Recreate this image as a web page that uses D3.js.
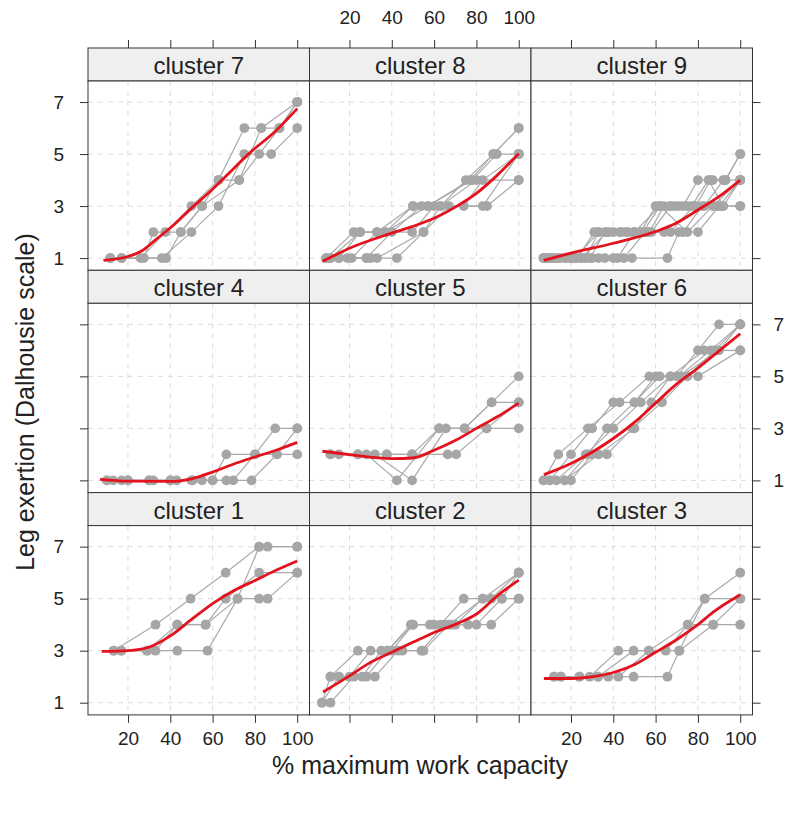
<!DOCTYPE html>
<html><head><meta charset="utf-8">
<script src="https://cdn.jsdelivr.net/npm/d3@7"></script>
<style>
body{margin:0;background:#fff}
text{font-family:"Liberation Sans",Arial,Helvetica,sans-serif;fill:#222}
</style>
</head><body>
<svg id="chart" width="800" height="815"></svg>
<script>
// ---------- data ----------
const xTicks = [20, 40, 60, 80, 100];
const yTicks = [1, 3, 5, 7];
const panelOrder = [7, 8, 9, 4, 5, 6, 1, 2, 3];
const stripLabels = ["cluster 7","cluster 8","cluster 9","cluster 4","cluster 5","cluster 6","cluster 1","cluster 2","cluster 3"];
const xTitle = "% maximum work capacity";
const yTitle = "Leg exertion (Dalhousie scale)";

// individual subjects: [% max work capacity, Dalhousie score]
const cluster1Subjects = [
  [[13.2,3],[33,4],[49.6,5],[66.2,6],[82,7],[86,7],[100,7]],
  [[16.8,3],[29,3],[43.3,4],[56.7,4],[66.2,5],[82,6],[100,6]],
  [[13.2,3],[29,3],[43.3,3],[57.6,3],[71.8,5],[82,5],[86,5],[100,6]],
  [[16.8,3],[33,3],[43.3,4],[56.7,4],[71.8,5],[82,7],[100,7]]
];
const cluster2Subjects = [
  [[7,1],[11,2],[24,3],[38,3],[50,4],[63,4],[74,5],[87,5],[100,6]],
  [[11,1],[22,2],[32,2],[43,3],[54,3],[65,4],[76,4],[87,4],[100,5]],
  [[11,2],[20,2],[30,3],[40,3],[50,4],[60,4],[70,4],[83,5],[92,5],[100,6]],
  [[7,1],[15,2],[28,2],[38,3],[49,4],[58,4],[68,4],[80,4],[92,5],[100,5]],
  [[15,2],[26,2],[35,3],[45,3],[55,3],[67,4],[83,5],[100,6]]
];
const cluster3Subjects = [
  [[12,2],[28.8,2],[42.4,3],[56.8,3],[75.2,4],[83.2,5],[100,6]],
  [[15.2,2],[32.8,2],[49.6,3],[64.8,3],[75.2,4],[87.2,4],[100,4]],
  [[12,2],[24,2],[37.6,2],[49.6,2],[65.6,2],[71.2,3],[83.2,5],[100,5]],
  [[15.2,2],[24,2],[32.8,2],[42.4,2],[56.8,3],[71.2,3],[87.2,4],[100,5]]
];
const cluster4Subjects = [
  [[10,1],[20,1],[30,1],[40,1],[50,1],[60,1],[66.5,2],[80,2],[89.6,3],[100,3]],
  [[10,1],[17,1],[32,1],[43,1],[55,1],[66.5,1],[78.4,1],[90.4,2],[100,2]],
  [[13,1],[20,1],[30,1],[40,1],[50.6,1],[60,1],[69.7,1],[80,2],[90.4,2],[100,3]]
];
const cluster5Subjects = [
  [[11,2],[24,2],[37.6,2],[49.6,2],[62.4,3],[74.4,3],[87.2,4],[100,5]],
  [[11,2],[28,2],[42.4,1],[62.4,3],[74.4,3],[87.2,4],[100,4]],
  [[15,2],[32,2],[49.6,1],[65.6,3],[84.8,3],[100,3]],
  [[24,2],[37.6,2],[49.6,2],[66.4,2],[70.4,2],[84.8,3],[100,4]]
];
const cluster6Subjects = [
  [[7,1],[14,2],[28,3],[43,4],[57,5],[71,5],[86,6],[100,7]],
  [[10,1],[20,2],[30,3],[40,4],[50,4],[60,5],[70,5],[80,6],[90,7],[100,7]],
  [[13,1],[27,2],[40,3],[53,4],[67,5],[80,5],[100,6]],
  [[7,1],[17,1],[33,2],[50,3],[58,4],[67,5],[83,6],[100,6]],
  [[10,1],[20,1],[30,2],[37,2],[49,3],[63,4],[75,5],[88,6],[100,7]],
  [[17,1],[28,2],[37,3],[50,4],[62,5],[72,5],[90,6],[100,7]]
];
const cluster7Subjects = [
  [[11.6,1],[26,1],[37.7,2],[50,3],[62.8,4],[75,6],[83,6],[100,7]],
  [[17,1],[27.5,1],[32,2],[45,2],[55,3],[72.6,4],[82,5],[91.6,6],[100,7]],
  [[11.6,1],[36,1],[50,2],[62.8,3],[75,5],[87.7,5],[100,6]],
  [[17,1],[38,1],[45,2],[55,3],[62.8,4],[72.6,4],[83,6],[91.6,6],[100,7]]
];
const cluster8Subjects = [
  [[9,1],[22,2],[33,2],[50,3],[63,3],[75,4],[88,5],[100,6]],
  [[11,1],[25,2],[37,2],[50,3],[57,3],[78,4],[89.6,5],[100,5]],
  [[15,1],[28,1],[42.4,1],[55,2],[63,3],[80,4],[100,4]],
  [[19,1],[28,1],[40,2],[54,3],[74,3],[83,4],[100,5]],
  [[9,1],[21,1],[33,2],[49.6,2],[60,3],[85,3],[100,4]],
  [[11,1],[30,1],[33,1],[55,2],[67,3],[83,3],[100,5]],
  [[15,1],[25,2],[37,2],[57,3],[77,4],[88,5],[100,6]]
];
const cluster9Subjects = [
  [[7,1],[14,1],[21,1],[29,1],[36,2],[43,2],[50,2],[57,2],[64,3],[71,3],[79,3],[86,4],[93,4],[100,5]],
  [[8,1],[17,1],[25,1],[33,1],[42,1],[50,2],[58,2],[67,3],[75,3],[83,3],[92,4],[100,4]],
  [[9,1],[18,1],[27,1],[36,1],[45,1],[55,2],[64,2],[73,2],[82,3],[91,3],[100,3]],
  [[10,1],[20,1],[30,1],[40,1],[48.8,1],[65.6,1],[71,2],[80,2],[90,3],[100,4]],
  [[11,1],[22,1],[33,2],[44,2],[56,2],[67,2],[78,3],[89,3],[100,3]],
  [[8,1],[15,1],[23,1],[31,2],[38,2],[46,2],[54,2],[62,3],[69,3],[77,3],[85,4],[92,3],[100,4]],
  [[12,1],[25,1],[37,2],[50,2],[62,3],[75,2],[87,3],[100,4]],
  [[7,1],[13,1],[20,1],[27,1],[33,2],[40,2],[47,2],[53,2],[60,3],[67,3],[73,3],[80,4],[87,4],[93,4],[100,5]]
];

// smoothed group trend (red)
const cluster1Smooth = [[7.6,2.97],[20,3.0],[29.8,3.13],[40.2,3.58],[50.5,4.23],[60,4.81],[70.3,5.32],[80.3,5.71],[90.2,6.1],[100,6.45]];
const cluster2Smooth = [[7.5,1.41],[20,2.03],[29.9,2.55],[40,2.94],[49.9,3.32],[60.3,3.71],[70.6,4.03],[80.2,4.42],[90.1,5.13],[100,5.71]];
const cluster3Smooth = [[7.2,1.93],[20,1.93],[30.4,2.0],[40,2.16],[50.4,2.48],[60,2.94],[70.4,3.45],[80,4.0],[87.2,4.48],[100,5.15]];
const cluster4Smooth = [[6.8,1.04],[20,0.97],[40,0.96],[50,1.06],[60,1.32],[69.7,1.62],[80,1.9],[90,2.16],[100,2.46]];
const cluster5Smooth = [[7.2,2.12],[20,1.99],[40,1.84],[49.9,1.86],[60,2.16],[70.4,2.55],[80,3.0],[89.9,3.45],[100,3.97]];
const cluster6Smooth = [[7.2,1.22],[20,1.65],[40,2.61],[50.4,3.26],[60,3.97],[69.6,4.68],[80,5.32],[89.9,5.97],[100,6.64]];
const cluster7Smooth = [[8.4,0.91],[20,1.06],[27,1.3],[33,1.7],[42,2.3],[50,2.92],[58,3.5],[66,4.13],[79,5.15],[88.5,5.79],[100,6.75]];
const cluster8Smooth = [[7.2,0.87],[20,1.38],[40,1.96],[49.6,2.21],[60,2.53],[70.4,2.98],[80,3.49],[89.9,4.19],[100,5.02]];
const cluster9Smooth = [[7.2,0.91],[20,1.19],[40,1.57],[60,2.02],[69.6,2.34],[80,2.85],[89.9,3.36],[100,4.0]];

const subjectsByCluster = {1:cluster1Subjects,2:cluster2Subjects,3:cluster3Subjects,4:cluster4Subjects,5:cluster5Subjects,6:cluster6Subjects,7:cluster7Subjects,8:cluster8Subjects,9:cluster9Subjects};
const smoothByCluster = {1:cluster1Smooth,2:cluster2Smooth,3:cluster3Smooth,4:cluster4Smooth,5:cluster5Smooth,6:cluster6Smooth,7:cluster7Smooth,8:cluster8Smooth,9:cluster9Smooth};

// ---------- layout ----------
const svg = d3.select("#chart");
const left = 88, colW = 221.5, top0 = 48, rowH = 222.3, stripH = 33;
const panelH = rowH - stripH;
const tickLen = 8;
const x = d3.scaleLinear().domain([1.1, 105.8]).range([0, colW]);
const y = d3.scaleLinear().domain([0.53, 7.81]).range([panelH, 0]);

const grey = "#a6a6a6", red = "#e3121d", border = "#333";
const line = d3.line().x(d => x(d[0])).y(d => y(d[1]));
const smoothLine = d3.line().x(d => x(d[0])).y(d => y(d[1])).curve(d3.curveMonotoneX);

panelOrder.forEach((cl, i) => {
  const col = i % 3, row = Math.floor(i / 3);
  const gx = left + col * colW, gy = top0 + row * rowH;

  // strip
  svg.append("rect").attr("x", gx).attr("y", gy).attr("width", colW).attr("height", stripH)
    .attr("fill", "#efefef").attr("stroke", border).attr("stroke-width", 1);
  svg.append("text").attr("x", gx + colW / 2).attr("y", gy + 26)
    .attr("text-anchor", "middle").attr("font-size", 24).text(stripLabels[i]);

  const g = svg.append("g").attr("transform", `translate(${gx},${gy + stripH})`);
  g.append("rect").attr("width", colW).attr("height", panelH).attr("fill", "#fff");

  // grid
  g.selectAll(".gx").data(xTicks).enter().append("line")
    .attr("x1", d => x(d)).attr("x2", d => x(d)).attr("y1", 0).attr("y2", panelH)
    .attr("stroke", "#dcdcdc").attr("stroke-dasharray", "5,5");
  g.selectAll(".gy").data(yTicks).enter().append("line")
    .attr("y1", d => y(d)).attr("y2", d => y(d)).attr("x1", 0).attr("x2", colW)
    .attr("stroke", "#dcdcdc").attr("stroke-dasharray", "5,5");

  const subs = subjectsByCluster[cl];
  g.selectAll(".subj").data(subs).enter().append("path")
    .attr("d", line).attr("fill", "none").attr("stroke", "#aaaaaa").attr("stroke-width", 1.2);
  g.selectAll(".pt").data(subs.flat()).enter().append("circle")
    .attr("cx", d => x(d[0])).attr("cy", d => y(d[1])).attr("r", 4.9).attr("fill", grey);
  g.append("path").attr("d", smoothLine(smoothByCluster[cl])).attr("fill", "none")
    .attr("stroke", red).attr("stroke-width", 2.8);

  g.append("rect").attr("width", colW).attr("height", panelH).attr("fill", "none")
    .attr("stroke", border).attr("stroke-width", 1);

  // axes
  const fmt = d3.format("d");
  if (row === 0) {
    const ax = svg.append("g").attr("transform", `translate(${gx},${gy})`)
      .call(d3.axisTop(x).tickValues(xTicks).tickSize(tickLen).tickPadding(16)
        .tickFormat(col === 1 ? fmt : () => ""));
    ax.select(".domain").remove();
  }
  if (row === 2) {
    const ax = svg.append("g").attr("transform", `translate(${gx},${gy + rowH})`)
      .call(d3.axisBottom(x).tickValues(xTicks).tickSize(tickLen).tickPadding(9)
        .tickFormat(col !== 1 ? fmt : () => ""));
    ax.select(".domain").remove();
  }
  if (col === 0) {
    const ax = svg.append("g").attr("transform", `translate(${gx},${gy + stripH})`)
      .call(d3.axisLeft(y).tickValues(yTicks).tickSize(tickLen).tickPadding(16)
        .tickFormat(row !== 1 ? fmt : () => ""));
    ax.select(".domain").remove();
  }
  if (col === 2) {
    const ax = svg.append("g").attr("transform", `translate(${gx + colW},${gy + stripH})`)
      .call(d3.axisRight(y).tickValues(yTicks).tickSize(tickLen).tickPadding(13)
        .tickFormat(row === 1 ? fmt : () => ""));
    ax.select(".domain").remove();
  }
});

svg.selectAll(".tick line").attr("stroke", border);
svg.selectAll(".tick text").attr("font-size", 19).attr("font-family", "Liberation Sans, Arial, sans-serif").attr("fill", "#222");

svg.append("text").attr("x", 420).attr("y", 774).attr("text-anchor", "middle")
  .attr("font-size", 25).text(xTitle);
svg.append("text").attr("transform", "translate(34,402) rotate(-90)").attr("text-anchor", "middle")
  .attr("font-size", 25).text(yTitle);
</script>
</body></html>
